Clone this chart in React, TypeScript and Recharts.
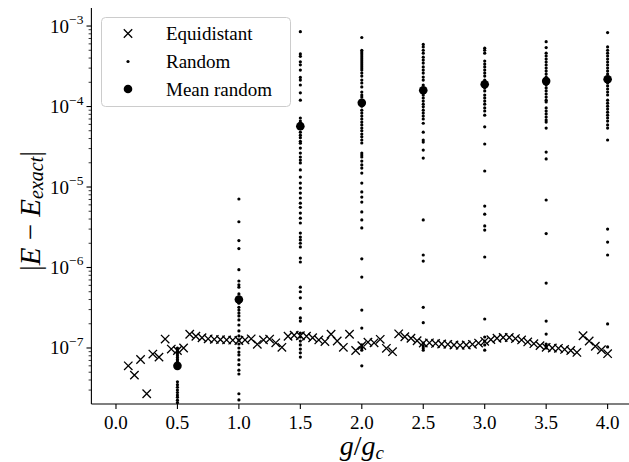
import React from 'react';
import { ScatterChart, Scatter, XAxis, YAxis, Legend } from 'recharts';

// ---------- data ----------
const equidistantG = [
  0.1, 0.15, 0.2, 0.25, 0.3, 0.35, 0.4, 0.45, 0.5, 0.55,
  0.6, 0.65, 0.7, 0.75, 0.8, 0.85, 0.9, 0.95, 1.0, 1.05,
  1.1, 1.15, 1.2, 1.25, 1.3, 1.35, 1.4, 1.45, 1.5, 1.55,
  1.6, 1.65, 1.7, 1.75, 1.8, 1.85, 1.9, 1.95, 2.0, 2.05,
  2.1, 2.15, 2.2, 2.25, 2.3, 2.35, 2.4, 2.45, 2.5, 2.55,
  2.6, 2.65, 2.7, 2.75, 2.8, 2.85, 2.9, 2.95, 3.0, 3.05,
  3.1, 3.15, 3.2, 3.25, 3.3, 3.35, 3.4, 3.45, 3.5, 3.55,
  3.6, 3.65, 3.7, 3.75, 3.8, 3.85, 3.9, 3.95, 4.0,
];
const equidistantErr = [
  6.0e-8, 4.6e-8, 7.2e-8, 2.7e-8, 8.4e-8, 7.7e-8, 1.29e-7, 9.7e-8, 9.3e-8, 1.0e-7,
  1.48e-7, 1.4e-7, 1.34e-7, 1.3e-7, 1.28e-7, 1.27e-7, 1.26e-7, 1.25e-7, 1.24e-7, 1.26e-7,
  1.3e-7, 1.11e-7, 1.26e-7, 1.29e-7, 1.16e-7, 1.02e-7, 1.4e-7, 1.44e-7, 1.42e-7, 1.4e-7,
  1.34e-7, 1.26e-7, 1.2e-7, 1.48e-7, 1.22e-7, 1.02e-7, 1.48e-7, 9.3e-8, 1.07e-7, 1.18e-7,
  1.16e-7, 1.28e-7, 9.9e-8, 9.0e-8, 1.5e-7, 1.38e-7, 1.32e-7, 1.23e-7, 1.15e-7, 1.16e-7,
  1.14e-7, 1.12e-7, 1.11e-7, 1.09e-7, 1.08e-7, 1.09e-7, 1.11e-7, 1.15e-7, 1.21e-7, 1.27e-7,
  1.32e-7, 1.35e-7, 1.35e-7, 1.31e-7, 1.26e-7, 1.19e-7, 1.13e-7, 1.07e-7, 1.02e-7, 1.0e-7,
  9.9e-8, 9.6e-8, 9.3e-8, 8.8e-8, 1.42e-7, 1.22e-7, 1.05e-7, 9.5e-8, 8.5e-8,
];

const randomG = [0.5, 1.0, 1.5, 2.0, 2.5, 3.0, 3.5, 4.0];

const random05 = [
  1.0e-7, 9.6e-8, 9.2e-8, 8.8e-8, 8.4e-8, 8.0e-8, 7.6e-8, 7.2e-8, 6.9e-8, 6.6e-8,
  6.3e-8, 5.7e-8, 3.8e-8, 3.5e-8, 3.25e-8, 3.0e-8, 2.8e-8, 2.6e-8, 2.45e-8, 2.25e-8, 2.1e-8,
];
const random10 = [
  7.1e-6, 3.7e-6, 2.16e-6, 1.72e-6, 9.4e-7, 6.8e-7, 6.1e-7, 5.7e-7, 4.7e-7, 3.6e-7,
  3.2e-7, 2.96e-7, 2.72e-7, 2.5e-7, 2.23e-7, 1.93e-7, 1.63e-7, 1.41e-7, 1.26e-7, 1.12e-7,
  1.0e-7, 8.9e-8, 8.2e-8, 7.1e-8, 6.2e-8, 5.3e-8, 4.75e-8, 2.7e-8, 2.26e-8,
];
const random15 = [
  8.5e-4, 4.5e-4, 4.2e-4, 3.6e-4, 3.3e-4, 2.84e-4, 2.3e-4, 2.13e-4, 1.85e-4, 1.48e-4,
  1.2e-4, 7.2e-5, 6.6e-5, 6.1e-5, 4.8e-5, 4.4e-5, 4.1e-5, 3.7e-5, 3.5e-5, 3.05e-5,
  2.64e-5, 2.36e-5, 2.16e-5, 1.99e-5, 1.63e-5, 1.33e-5, 1.12e-5, 9.7e-6, 8.4e-6, 7.3e-6,
  6.3e-6, 5.6e-6, 4.75e-6, 4.1e-6, 3.57e-6, 2.68e-6, 2.39e-6, 2.2e-6, 2.0e-6, 1.8e-6,
  1.31e-6, 1.17e-6, 5.7e-7, 5.0e-7, 4.2e-7, 3.1e-7, 2.36e-7, 2.16e-7, 1.53e-7, 1.37e-7,
  1.22e-7, 1.09e-7, 9.7e-8, 8.7e-8, 7.7e-8,
];
const random20 = [
  7.2e-4, 5.0e-4, 4.75e-4, 4.5e-4, 4.24e-4, 4.0e-4, 3.78e-4, 3.57e-4, 3.37e-4, 3.18e-4,
  3.0e-4, 2.84e-4, 2.6e-4, 2.39e-4, 2.13e-4, 1.96e-4, 1.75e-4, 1.51e-4, 1.39e-4, 1.31e-4,
  1.01e-4, 9.0e-5, 8.3e-5, 7.6e-5, 7.0e-5, 6.4e-5, 5.9e-5, 5.4e-5, 5.0e-5, 4.55e-5,
  4.2e-5, 3.84e-5, 3.52e-5, 2.64e-5, 2.5e-5, 2.36e-5, 2.1e-5, 1.88e-5, 1.72e-5, 1.49e-5,
  1.12e-5, 8.7e-6, 7.5e-6, 6.5e-6, 4.9e-6, 3.9e-6, 3.1e-6, 1.28e-6, 7.6e-7, 2.96e-7,
  1.77e-7, 1.09e-7, 1.0e-7, 9.4e-8, 6.0e-8,
];
const random25 = [
  5.9e-4, 5.5e-4, 5.0e-4, 4.6e-4, 4.1e-4, 3.78e-4, 3.47e-4, 3.1e-4, 2.84e-4, 2.6e-4,
  2.32e-4, 2.13e-4, 1.85e-4, 1.39e-4, 1.28e-4, 1.17e-4, 1.07e-4, 9.9e-5, 9.0e-5, 8.3e-5,
  7.6e-5, 7.0e-5, 6.2e-5, 4.8e-5, 3.84e-5, 3.62e-5, 2.88e-5, 2.29e-5, 3.9e-6, 1.43e-6,
  1.2e-6, 3.2e-7, 2.06e-7, 1.15e-7, 1.06e-7, 1.0e-7, 9.4e-8,
];
const random30 = [
  5.3e-4, 5.0e-4, 4.6e-4, 3.67e-4, 3.37e-4, 3.1e-4, 2.84e-4, 2.6e-4, 2.39e-4, 2.13e-4,
  1.7e-4, 1.56e-4, 1.39e-4, 1.28e-4, 1.17e-4, 1.07e-4, 9.6e-5, 8.8e-5, 7.8e-5, 5.6e-5,
  3.42e-5, 1.58e-5, 5.8e-6, 4.6e-6, 3.28e-6, 2.92e-6, 1.35e-6, 2.29e-7, 1.37e-7, 1.22e-7,
  1.09e-7, 9.4e-8,
];
const random35 = [
  6.4e-4, 5.4e-4, 4.6e-4, 4.24e-4, 3.89e-4, 3.57e-4, 3.28e-4, 3.0e-4, 2.76e-4, 2.53e-4,
  2.32e-4, 1.85e-4, 1.7e-4, 1.56e-4, 1.43e-4, 1.31e-4, 1.2e-4, 1.14e-4, 9.6e-5, 8.8e-5,
  8.1e-5, 7.4e-5, 6.8e-5, 6.4e-5, 5.4e-5, 2.72e-5, 2.23e-5, 6.9e-6, 2.64e-6, 6.4e-7,
  2.16e-7, 1.49e-7, 1.12e-7, 1.06e-7, 1.0e-7,
];
const random40 = [
  8.3e-4, 5.5e-4, 5.0e-4, 4.6e-4, 4.24e-4, 3.89e-4, 3.57e-4, 3.28e-4, 3.0e-4, 2.76e-4,
  2.53e-4, 2.32e-4, 1.96e-4, 1.8e-4, 1.65e-4, 1.51e-4, 1.39e-4, 1.2e-4, 1.1e-4, 1.01e-4,
  9.3e-5, 8.5e-5, 7.8e-5, 7.2e-5, 6.6e-5, 5.9e-5, 5.4e-5, 3.84e-5, 3.0e-6, 2.07e-6,
  1.43e-6, 1.99e-7, 1.03e-7,
];
const randomColumns = [random05, random10, random15, random20, random25, random30, random35, random40];

const meanRandom = [6.0e-8, 4.0e-7, 5.7e-5, 1.11e-4, 1.59e-4, 1.89e-4, 2.07e-4, 2.18e-4];

const xTicks = [0, 0.5, 1.0, 1.5, 2.0, 2.5, 3.0, 3.5, 4.0];
const yMajorExponents = [-7, -6, -5, -4, -3];
const minorMultipliers = [2, 3, 4, 5, 6, 7, 8, 9];
const minorExponents = [-8, -7, -6, -5, -4];

const X_DOMAIN: [number, number] = [-0.2, 4.2];
const Y_DOMAIN: [number, number] = [2.014e-8, 1.675e-3];

// ---------- derived tables ----------
const equidistantData = equidistantG.map((g, i) => ({ x: g, y: equidistantErr[i] }));
const randomData = randomG.flatMap((g, i) => randomColumns[i].map((v) => ({ x: g, y: v })));
const meanData = randomG.map((g, i) => ({ x: g, y: meanRandom[i] }));

const yMajorTicks = yMajorExponents.map((e) => Math.pow(10, e));
const yMinorTicks = minorExponents
  .flatMap((e) => minorMultipliers.map((m) => m * Math.pow(10, e)))
  .filter((v) => v > Y_DOMAIN[0] && v < Y_DOMAIN[1]);
const yAllTicks = [...yMajorTicks, ...yMinorTicks].sort((a, b) => a - b);

const FONT = '"Liberation Serif", "DejaVu Serif", serif';
const INK = '#000';

// ---------- shapes ----------
const Cross = (props: any) => {
  const { cx, cy } = props;
  if (cx == null || cy == null) return null;
  const s = 4.2;
  return (
    <path
      d={`M${cx - s},${cy - s}L${cx + s},${cy + s}M${cx - s},${cy + s}L${cx + s},${cy - s}`}
      stroke={INK}
      strokeWidth={1.3}
      fill="none"
    />
  );
};
const SmallDot = (props: any) => {
  const { cx, cy } = props;
  if (cx == null || cy == null) return null;
  return <circle cx={cx} cy={cy} r={1.6} fill={INK} />;
};
const BigDot = (props: any) => {
  const { cx, cy } = props;
  if (cx == null || cy == null) return null;
  return <circle cx={cx} cy={cy} r={4.3} fill={INK} />;
};

// ---------- ticks ----------
const XTick = (props: any) => {
  const { x, y, payload } = props;
  return (
    <g>
      <line x1={x} x2={x} y1={y} y2={y + 4.9} stroke={INK} strokeWidth={1.1} />
      <text x={x} y={y + 24.5} textAnchor="middle" fontFamily={FONT} fontSize={19} fill={INK}>
        {Number(payload.value).toFixed(1)}
      </text>
    </g>
  );
};

const YTick = (props: any) => {
  const { x, y, payload } = props;
  const v = payload.value as number;
  const e = Math.round(Math.log10(v));
  const isMajor = Math.abs(v - Math.pow(10, e)) / v < 1e-6;
  if (!isMajor) {
    return <line x1={x} x2={x - 2.8} y1={y} y2={y} stroke={INK} strokeWidth={0.8} />;
  }
  return (
    <g>
      <line x1={x} x2={x - 4.9} y1={y} y2={y} stroke={INK} strokeWidth={1.1} />
      <text x={x - 8} y={y + 6.5} textAnchor="end" fontFamily={FONT} fontSize={19} fill={INK}>
        10
        <tspan dy={-8.5} fontSize={13.5}>
          {'\u2212' + String(Math.abs(e))}
        </tspan>
      </text>
    </g>
  );
};

// ---------- labels ----------
const YLabel = (props: any) => {
  const vb = props.viewBox || { x: 0, y: 8, width: 91.4, height: 396 };
  const cx = vb.x + 30;
  const cy = vb.y + vb.height / 2 + 5;
  return (
    <text
      x={cx}
      y={cy}
      transform={`rotate(-90, ${cx}, ${cy})`}
      textAnchor="middle"
      dominantBaseline="central"
      fontFamily={FONT}
      fontSize={29}
      fill={INK}
    >
      |<tspan fontStyle="italic">E</tspan>
      <tspan>{' \u2212 '}</tspan>
      <tspan fontStyle="italic">E</tspan>
      <tspan fontStyle="italic" fontSize={20} dy={6}>
        exact
      </tspan>
      <tspan dy={-6}>|</tspan>
    </text>
  );
};

const XLabel = (props: any) => {
  const vb = props.viewBox || { x: 91.4, y: 404, width: 540, height: 58 };
  const cx = vb.x + vb.width / 2;
  return (
    <text x={cx} y={vb.y + 51} textAnchor="middle" fontFamily={FONT} fontSize={28} fill={INK}>
      <tspan fontStyle="italic">g</tspan>
      <tspan>/</tspan>
      <tspan fontStyle="italic">g</tspan>
      <tspan fontStyle="italic" fontSize={19} dy={4}>
        c
      </tspan>
    </text>
  );
};

// ---------- legend ----------
const legendItems = ['Equidistant', 'Random', 'Mean random'];
const LegendBox = () => {
  const rowY = [16.5, 44.5, 72];
  return (
    <svg width={191} height={91} style={{ display: 'block' }}>
      <rect x={0.5} y={0.5} width={189} height={89} rx={4} ry={4} fill="#fff" fillOpacity={0.8} stroke="#cccccc" strokeWidth={1} />
      <Cross cx={27} cy={rowY[0]} />
      <SmallDot cx={27} cy={rowY[1]} />
      <BigDot cx={27} cy={rowY[2]} />
      {legendItems.map((t, i) => (
        <text key={t} x={65} y={rowY[i] + 6.5} fontFamily={FONT} fontSize={19} fill={INK}>
          {t}
        </text>
      ))}
    </svg>
  );
};

export default function App() {
  return (
    <div style={{ position: 'absolute', left: 0, top: 0, width: 629, height: 462, overflow: 'hidden', background: '#fff' }}>
      <ScatterChart width={640} height={462} margin={{ top: 8, right: 7.8, bottom: 0, left: 0 }}>
        <XAxis
          xAxisId="main"
          type="number"
          dataKey="x"
          domain={X_DOMAIN}
          allowDataOverflow
          ticks={xTicks}
          interval={0}
          tickSize={0}
          tickMargin={0}
          height={58}
          tickLine={false}
          axisLine={{ stroke: INK, strokeWidth: 1.1 }}
          tick={(p: any) => <XTick {...p} />}
          label={(p: any) => <XLabel {...p} />}
        />
        <XAxis
          xAxisId="top"
          orientation="top"
          type="number"
          domain={X_DOMAIN}
          height={0}
          tick={false}
          tickLine={false}
          axisLine={{ stroke: INK, strokeWidth: 1.1 }}
        />
        <YAxis
          yAxisId="main"
          type="number"
          dataKey="y"
          scale="log"
          domain={Y_DOMAIN}
          allowDataOverflow
          ticks={yAllTicks}
          interval={0}
          tickSize={0}
          tickMargin={0}
          width={91.4}
          tickLine={false}
          axisLine={{ stroke: INK, strokeWidth: 1.1 }}
          tick={(p: any) => <YTick {...p} />}
          label={(p: any) => <YLabel {...p} />}
        />
        <Legend
          layout="vertical"
          verticalAlign="middle"
          align="center"
          wrapperStyle={{ left: 101, top: 17, width: 191, height: 91 }}
          content={() => <LegendBox />}
        />
        <Scatter name="Equidistant" data={equidistantData} xAxisId="main" yAxisId="main" shape={Cross} isAnimationActive={false} />
        <Scatter name="Random" data={randomData} xAxisId="main" yAxisId="main" shape={SmallDot} isAnimationActive={false} />
        <Scatter name="Mean random" data={meanData} xAxisId="main" yAxisId="main" shape={BigDot} isAnimationActive={false} />
      </ScatterChart>
    </div>
  );
}
